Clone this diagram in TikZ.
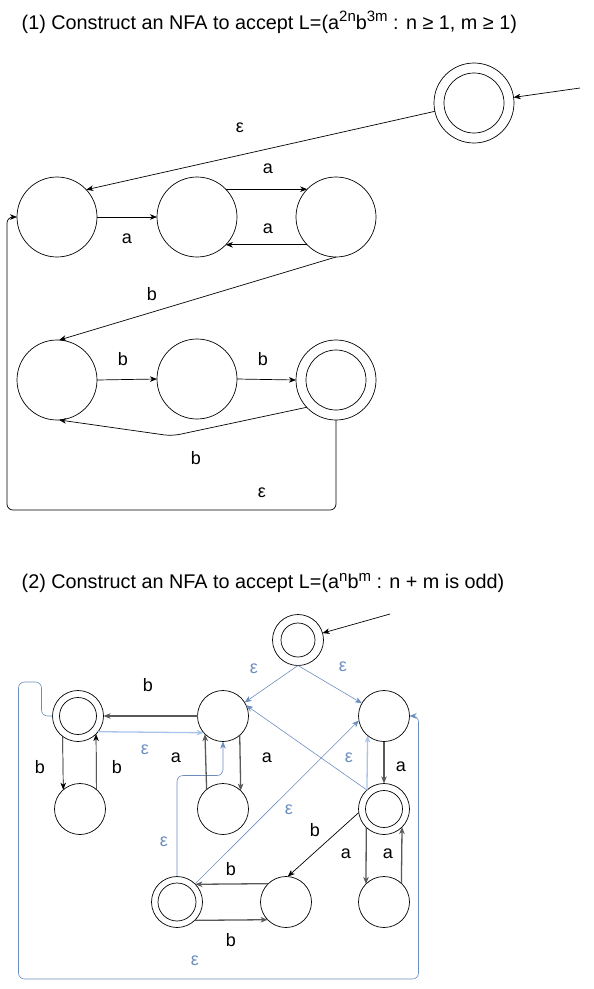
\documentclass[tikz,border=0pt]{standalone}
\usepackage{fontspec}
\setmainfont{Liberation Sans}
\usetikzlibrary{arrows.meta}
\definecolor{epsblue}{HTML}{6C8EBF}
\definecolor{epslight}{HTML}{A9C4EB}
\definecolor{arrgray}{HTML}{595959}
\newcommand{\expo}[1]{\raisebox{0.75ex}{\fontsize{15}{15}\selectfont #1}}
\begin{document}
\begin{tikzpicture}[x=1pt, y=-1pt, >={Stealth[length=7pt, width=5.5pt, inset=2pt]}, line width=0.7pt,
  every node/.style={font=\fontsize{18}{21}\selectfont},
  titlefont/.style={font=\fontsize{19.8}{23}\selectfont},
  st/.style={circle, draw, minimum size=80pt, inner sep=0pt, outer sep=0pt},
  sm/.style={circle, draw, minimum size=51pt, inner sep=0pt, outer sep=0pt},
  acc/.style={path picture={\draw (path picture bounding box.center) circle[radius=#1];}},
  eps/.style={epsblue, line width=0.6pt},
  epsl/.style={epslight, line width=1.3pt},
  heavy/.style={arrgray, line width=1.3pt},
  epslab/.style={text=epsblue}]
\useasboundingbox (0,0) rectangle (594,989);

% (1)
\node[anchor=west, titlefont] (title1) at (18,22) {(1) Construct an NFA to accept L=(a\expo{2n}b\expo{3m} : n ≥ 1, m ≥ 1)};
\node[st, acc=30pt] (s0) at (474,103) {};
\foreach \n/\x/\y in {q1/57/217, q2/197/217, q3/336/217, q4/57/380, q5/197/379}
{
    \node[st] (\n) at (\x,\y) {};
}
\node[st, acc=30pt] (q6) at (336,380) {};
\coordinate (in1) at (580,88);
\coordinate (kink) at (172,436);

\draw[->] (in1) -- (s0);
\draw[->] (s0.192) -- (q1.43);
\draw[->] (q1.east) -- (q2.west);
\draw[->] (q2.44) -- (q3.136);
\draw[->] (q3.224) -- (q2.-44);
\draw[->] (q3.south) -- (q4.87);
\draw[->] (q4.east) -- (q5.west);
\draw[->] (q5.east) -- (q6.west);
\draw[->, rounded corners=8pt] (q6.223) -- (kink) -- (q4.273);
\draw[->, rounded corners=6pt] (q6.south) -- ++(0,90) -| ([xshift=-10pt]q1.west) -- (q1.west);

\node (l1) at (240,128) {ε};
\node (l2) at (127,239) {a};
\node (l3) at (268,169) {a};
\node (l4) at (268,229) {a};
\node (l5) at (152,294) {b};
\node (l6) at (123,359) {b};
\node (l7) at (263,359) {b};
\node (l8) at (196,458) {b};
\node (l9) at (262,493) {ε};

% (2)
\node[anchor=west, titlefont] (title2) at (18,583) {(2) Construct an NFA to accept L=(a\expo{n}b\expo{m} : n + m is odd)};
\node[sm, acc=17pt] (s) at (298,640) {};
\node[sm, acc=18.5pt] (A) at (78,716) {};
\node[sm] (B) at (223,716) {};
\node[sm] (C) at (384,716) {};
\node[sm] (A2) at (80,809) {};
\node[sm] (B2) at (223,809) {};
\node[sm, acc=18.5pt] (D) at (384,809) {};
\node[sm, acc=19pt] (E) at (177,902) {};
\node[sm] (F) at (286,902) {};
\node[sm] (G) at (384,902) {};
\coordinate (in2) at (390,614);

\draw[->] (in2) -- (s);
\draw[->, eps] (s.south) -- (B.32);
\draw[->, eps] (s.south) -- (C.150);
\draw[->, eps] (D.132) -- (B.25);
\draw[->, eps] (E.45) -- (C.190);
\draw[->, epsl] (D.132) -- (C.230);
\draw[->, epsl] (A.322) -- (B.221);
\draw[->, eps, rounded corners=6pt] (E.north) -- ++(0,-101) -| (B.south);
\draw[->, eps, rounded corners=6pt] (A.west) -- ++(-11,0) |- ++(-23,-34) -- ++(0,297) -| ([xshift=9pt]C.east) -- (C.east);

\draw[->, heavy] (B.west) -- (A.east);
\draw[->] (A.233) -- (A2.131);
\draw[->] (A2.50) -- (A.315);
\draw[->, heavy] (B2.130) -- (B.225);
\draw[->, heavy] (B.311) -- (B2.46);
\draw[->, heavy] (C.south) -- (D.north);
\draw[->, heavy] (D.226) -- (G.135);
\draw[->, heavy] (G.47) -- (D.315);
\draw[->] (D.188) -- (F.86);
\draw[->, heavy] (F.134) -- (E.44);
\draw[->, heavy] (E.314) -- (F.224);

\node[epslab] (m1) at (254,669) {ε};
\node[epslab] (m2) at (343,667) {ε};
\node (m3) at (148,685) {b};
\node[epslab] (m4) at (145,750) {ε};
\node (m5) at (176,758) {a};
\node (m6) at (267,758) {a};
\node (m7) at (40,767) {b};
\node (m8) at (117,767) {b};
\node[epslab] (m9) at (349,758) {ε};
\node (m10) at (401,767) {a};
\node[epslab] (m11) at (289,810) {ε};
\node (m12) at (315,830) {b};
\node[epslab] (m13) at (164,842) {ε};
\node (m14) at (346,854) {a};
\node (m15) at (388,854) {a};
\node (m16) at (231,869) {b};
\node (m17) at (231,940) {b};
\node[epslab] (m18) at (195,961) {ε};
\end{tikzpicture}
\end{document}
